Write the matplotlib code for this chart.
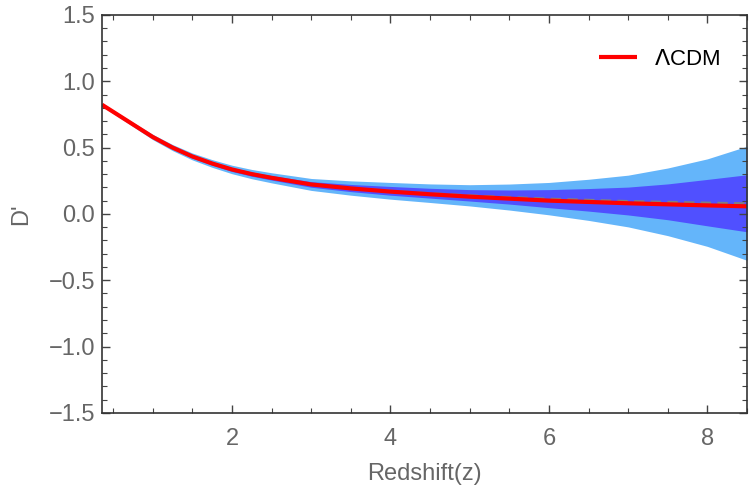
import matplotlib
matplotlib.use("Agg")
import matplotlib.pyplot as plt
from matplotlib.ticker import MultipleLocator
import numpy as np

plt.rcParams['font.family'] = ['Liberation Sans', 'DejaVu Sans']

# redshift grid and values
z = [0.36, 0.5, 0.75, 1.0, 1.25, 1.5, 1.75, 2.0, 2.25, 2.5, 3.0, 3.5,
     4.0, 4.5, 5.0, 5.5, 6.0, 6.5, 7.0, 7.5, 8.0, 8.5]
lcdm = [0.823, 0.77, 0.675, 0.58, 0.50, 0.433, 0.38, 0.335, 0.30, 0.272, 0.222, 0.192,
        0.168, 0.148, 0.13, 0.115, 0.10, 0.09, 0.08, 0.072, 0.064, 0.057]
mean = [0.823, 0.77, 0.675, 0.58, 0.50, 0.433, 0.38, 0.335, 0.30, 0.272, 0.222, 0.195,
        0.174, 0.156, 0.14, 0.127, 0.115, 0.106, 0.097, 0.091, 0.085, 0.08]
sig1 = [0.006, 0.007, 0.008, 0.01, 0.011, 0.012, 0.013, 0.015, 0.016, 0.017, 0.021, 0.027,
        0.033, 0.037, 0.043, 0.053, 0.068, 0.085, 0.105, 0.135, 0.175, 0.215]
sig2 = [0.012, 0.013, 0.016, 0.02, 0.023, 0.026, 0.029, 0.032, 0.035, 0.038, 0.045, 0.054,
        0.063, 0.07, 0.08, 0.098, 0.122, 0.155, 0.195, 0.255, 0.33, 0.43]

z = np.array(z)
mean = np.array(mean)
sig1 = np.array(sig1)
sig2 = np.array(sig2)

fig = plt.figure(figsize=(7.5, 4.98), dpi=100)
ax = fig.add_axes([0.136, 0.171, 0.860, 0.799])

ax.fill_between(z, mean - sig2, mean + sig2, color='#64b5fa', lw=0)
ax.fill_between(z, mean - sig1, mean + sig1, color='#5050ff', lw=0)
ax.plot(z, mean, color='#808080', lw=1.5, dashes=(5, 3))
ax.plot(z, lcdm, color='red', lw=3, label=r'$\Lambda$CDM', solid_capstyle='butt')

ax.set_xlim(0.36, 8.5)
ax.set_ylim(-1.5, 1.5)
ax.xaxis.set_major_locator(MultipleLocator(2))
ax.xaxis.set_minor_locator(MultipleLocator(0.5))
ax.yaxis.set_major_locator(MultipleLocator(0.5))
ax.yaxis.set_minor_locator(MultipleLocator(0.1))
ax.yaxis.set_major_formatter(plt.FuncFormatter(lambda v, p: ('%.1f' % v).replace('-', '\u2212')))

ax.tick_params(which='both', direction='in', top=True, right=True,
               colors='#444444', labelcolor='#666666', labelsize=17)
ax.tick_params(which='major', length=6, width=1)
ax.tick_params(which='minor', length=3.5, width=0.8)
ax.tick_params(axis='x', pad=11)
ax.tick_params(axis='y', pad=5)
for s in ax.spines.values():
    s.set_color('#333333')
    s.set_linewidth(1.2)

ax.set_xlabel('Redshift(z)', fontsize=17, color='#666666', labelpad=9)
ax.set_ylabel("D'", fontsize=17, color='#666666', labelpad=12)

leg = ax.legend(loc='upper right', frameon=False, fontsize=16, handlelength=1.7,
                handletextpad=0.8, bbox_to_anchor=(0.99, 0.965))
for t in leg.get_texts():
    t.set_color('black')

fig.savefig('out.png', dpi=100)
